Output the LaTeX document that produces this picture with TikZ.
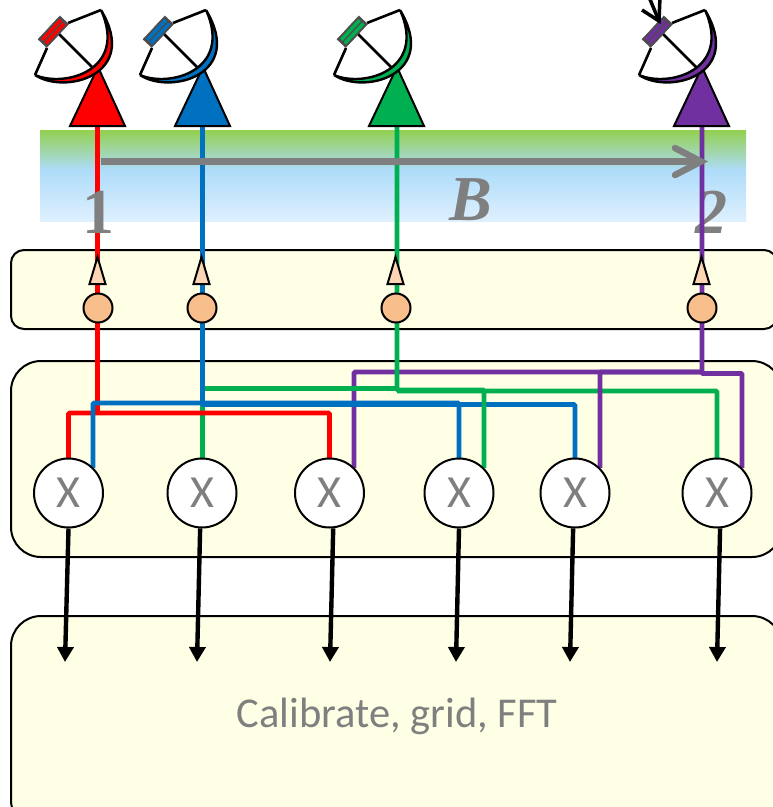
\documentclass[tikz,border=0pt]{standalone}
\usepackage{fontspec}
\setmainfont{Liberation Serif}
\newfontfamily\calfont{Carlito}
\usetikzlibrary{arrows.meta}
\definecolor{cred}{RGB}{255,0,0}
\definecolor{cblue}{RGB}{0,112,192}
\definecolor{cgreen}{RGB}{0,176,80}
\definecolor{cpurple}{RGB}{112,48,160}
\definecolor{cgray}{RGB}{127,127,127}
\definecolor{boxfill}{RGB}{255,255,230}
\definecolor{ampfill}{RGB}{248,190,140}
\definecolor{trifill}{RGB}{252,213,180}
\definecolor{bandgreen}{RGB}{146,208,80}
\definecolor{bandblue}{RGB}{174,220,250}
\definecolor{bandpale}{RGB}{222,240,254}
\pgfdeclareverticalshading{bandshade}{100bp}{
 color(0bp)=(bandpale); color(25bp)=(bandpale); color(53bp)=(bandblue); color(75bp)=(bandgreen); color(100bp)=(bandgreen)}
\tikzset{
 panel/.style={draw=black,line width=2pt,fill=boxfill},
 wire/.style={line width=4.6pt,rounded corners=1pt},
 mixer/.style={circle,draw=black,line width=2pt,fill=white,minimum size=69pt,inner sep=0pt,text=cgray,font=\calfont\fontsize{46}{46}\selectfont},
 amp/.style={circle,draw=black,line width=2pt,fill=ampfill,minimum size=29pt,inner sep=0pt},
 outarrow/.style={line width=4.4pt,-{Triangle[length=15pt,width=16pt]},shorten >=0pt},
 biglabel/.style={text=cgray,font=\bfseries\fontsize{64}{64}\selectfont,inner sep=0pt},
 pics/dish/.style={code={
  \fill[#1,draw=black,line width=2pt,line join=miter] (0,0) -- (-28,59) -- (27,59) -- cycle;
  \draw[black,line width=2.6pt] (-51,-19) -- (-63,8);
  \draw[black,line width=2.6pt] (-30,-44) -- (3,-57);
  \draw[black,line width=2.6pt] (-40,-34) -- (-6,0);
  \fill[#1,draw=black,line width=2.4pt] (-63,8) .. controls (-33,28) and (42,8) .. (3,-57) .. controls (30,3) and (-33,21) .. (-63,8) -- cycle;
  \begin{scope}[shift={(-44.7,-35.3)},rotate=47]
   \fill[black!70,draw=black!70] (-16,-6) rectangle (16,6);
   \fill[#1] (-13.5,-4.2) rectangle (13.5,-0.8);
   \fill[#1] (-13.5,0.8) rectangle (13.5,4.2);
  \end{scope}
 }}
}
\begin{document}
\begin{tikzpicture}[x=1pt,y=-1pt]
\useasboundingbox (0,0) rectangle (773,807);
\clip (0,0) rectangle (773,807);
% band
\shade[shading=bandshade] (40,130) rectangle (746,221);
% panels
\draw[panel,rounded corners=13pt] (11,250) rectangle (777,329);
\draw[panel,rounded corners=30pt] (11,361) rectangle (782,557);
\draw[panel,rounded corners=30pt] (11,616) rectangle (782,830);
% coordinates
\coordinate (ar) at (97.5,126);
\coordinate (ab) at (202.5,126);
\coordinate (ag) at (397,126);
\coordinate (ap) at (702,126);
\coordinate (t1) at (65,662);
\coordinate (t2) at (197,662);
\coordinate (t3) at (330,662);
\coordinate (t4) at (456,662);
\coordinate (t5) at (570,662);
\coordinate (t6) at (717,662);
% wires, lowest first
\draw[wire,cpurple] (354,468) -- (354,372) -- (702,372);
\draw[wire,cgreen] (202.5,459) -- (202.5,388.5) -- (397,388.5);
\draw[wire,cred] (ar) -- (97.5,413);
\draw[wire,cred] (68.5,459) -- (68.5,413) -- (329.5,413) -- (329.5,459);
\draw[wire,cblue] (93,468) -- (93,403) -- (459,403) -- (459,459);
\draw[wire,cblue] (ab) -- (202.5,404.5) -- (575,404.5) -- (575,459);
\draw[wire,cgreen] (ag) -- (397,390) -- (484,390) -- (484,468);
\draw[wire,cgreen] (397,391) -- (717,391) -- (717,459);
\node[biglabel] (one) at (98,212) {1};
\node[biglabel] (bee) at (471,199.5) {\itshape B};
\node[biglabel] (two) at (711,212) {\itshape 2};
\draw[wire,cpurple] (ap) -- (702,373.5) -- (742,373.5) -- (742,468);
\draw[wire,cpurple] (600,468) -- (600,372) -- (702,372);
% mixers
\node[mixer] (m1) at (68.5,493) {X};
\node[mixer] (m2) at (202,493) {X};
\node[mixer] (m3) at (329.5,493) {X};
\node[mixer] (m4) at (459,493) {X};
\node[mixer] (m5) at (575,493) {X};
\node[mixer] (m6) at (717,493) {X};
% output arrows
\draw[outarrow] (m1.south) -- (t1);
\draw[outarrow] (m2.-93) -- (t2);
\draw[outarrow] (m3.-84) -- (t3);
\draw[outarrow] (m4.south) -- (t4);
\draw[outarrow] (m5.-93) -- (t5);
\draw[outarrow] (m6.-85) -- (t6);
% amplifiers
\foreach \n/\x in {r/98,b/202,g/396,p/702}{
  \node[amp] (c\n) at (\x,308) {};
  \filldraw[fill=trifill,draw=black,line width=2pt] (\x-0.5,257) -- (\x-8.5,284) -- (\x+7.5,284) -- cycle;
}
% dishes
\pic at (98,67) {dish=cred};
\pic at (203,67) {dish=cblue};
\pic at (397,67) {dish=cgreen};
\pic at (702,67) {dish=cpurple};
% incoming ray
\coordinate (raytip) at (659,21);
\draw[black,line width=3.5pt] (649,-3) -- (raytip);
\draw[black,line width=3.5pt] (642,10) -- (raytip) -- (660,-3);
% baseline
\coordinate (bl) at (101,161.5);
\coordinate (br) at (701,161.5);
\draw[cgray,line width=6.5pt] (bl) -- (br);
\draw[cgray,line width=6.5pt,line cap=round,line join=miter] (675,148) -- (br) -- (675,175);
% text
\node[text=cgray,font=\calfont\fontsize{42.5}{42.5}\selectfont,inner sep=0pt] (txt) at (397,716) {Calibrate, grid, FFT};
\end{tikzpicture}
\end{document}
